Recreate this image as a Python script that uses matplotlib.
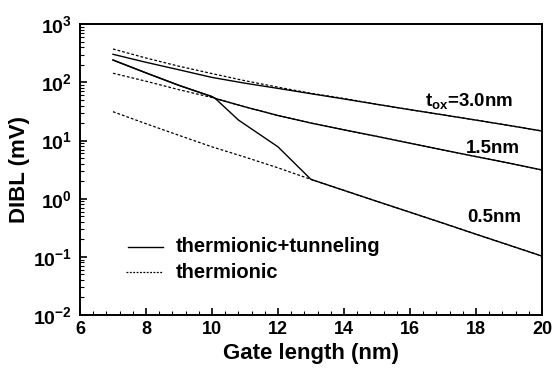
import matplotlib
matplotlib.use("Agg")
import matplotlib.pyplot as plt
from matplotlib.ticker import LogLocator, AutoMinorLocator, MultipleLocator, LogFormatterMathtext, NullFormatter

plt.rcParams['font.family'] = ['Liberation Sans', 'DejaVu Sans']
plt.rcParams['font.weight'] = 'bold'
plt.rcParams['mathtext.fontset'] = 'custom'
plt.rcParams['mathtext.rm'] = 'Liberation Sans:bold'
plt.rcParams['mathtext.bf'] = 'Liberation Sans:bold'
plt.rcParams['mathtext.it'] = 'Liberation Sans:bold'
plt.rcParams['mathtext.sf'] = 'Liberation Sans:bold'

# Gate length (nm)
L = [7, 8, 9, 10, 11, 12, 13, 14, 15, 16, 17, 18, 19, 20]

# thermionic only (dotted)
th_30 = [376, 263, 190, 142, 107, 83, 65, 53, 42, 34, 27.7, 22.5, 18.2, 14.6]
th_15 = [144, 105, 75, 55, 38, 27, 20, 15.3, 11.8, 9.0, 6.9, 5.3, 4.1, 3.12]
th_05 = [31.4, 19.5, 12.3, 7.8, 5.2, 3.4, 2.15, 1.39, 0.90, 0.585, 0.38, 0.245, 0.159, 0.103]

# thermionic + tunneling (solid)
L_tt30 = [7, 8, 9, 10, 11, 12, 13, 14, 15, 16, 17, 18, 19, 20]
tt_30 = [305, 222, 165, 122, 97, 79, 64, 52, 42, 34, 27.7, 22.5, 18.2, 14.6]
L_tt15 = [7, 8, 9, 10, 10.1, 11, 12, 13, 14, 15, 16, 17, 18, 19, 20]
tt_15 = [243, 146, 89, 57, 53, 38, 27, 20, 15.3, 11.8, 9.0, 6.9, 5.3, 4.1, 3.12]
L_tt05 = [7, 8, 9, 10, 10.1, 10.8, 12, 13, 14, 15, 16, 17, 18, 19, 20]
tt_05 = [243, 146, 89, 57, 53, 22.6, 7.8, 2.15, 1.39, 0.90, 0.585, 0.38, 0.245, 0.159, 0.103]

labels = [r'$\mathregular{t_{ox}}$=3.0nm', '1.5nm', '0.5nm']
legend_labels = ['thermionic+tunneling', 'thermionic']

fig = plt.figure(figsize=(5.57, 3.71), dpi=100)
ax = fig.add_axes([0.1436, 0.151, 0.8294, 0.7835])

dot = (0, (2.2, 1.6))
ax.plot(L, th_30, color='black', lw=0.9, ls=dot)
ax.plot(L, th_15, color='black', lw=0.9, ls=dot)
ax.plot(L, th_05, color='black', lw=0.9, ls=dot)
ax.plot(L_tt30, tt_30, color='black', lw=1.0)
ax.plot(L_tt15, tt_15, color='black', lw=1.0)
ax.plot(L_tt05, tt_05, color='black', lw=1.0)

ax.set_yscale('log')
ax.set_xlim(6, 20)
ax.set_ylim(1e-2, 1e3)
ax.xaxis.set_major_locator(MultipleLocator(2))
ax.xaxis.set_minor_locator(AutoMinorLocator(5))
ax.yaxis.set_major_locator(LogLocator(base=10, numticks=10))
ax.yaxis.set_minor_locator(LogLocator(base=10, subs=range(2, 10), numticks=20))
ax.yaxis.set_major_formatter(LogFormatterMathtext())
ax.yaxis.set_minor_formatter(NullFormatter())

ax.tick_params(which='both', direction='in', top=False, right=False)
ax.tick_params(which='major', length=5, width=1.2)
ax.tick_params(axis='x', which='major', pad=4, labelsize=13)
ax.tick_params(axis='y', which='major', pad=6, labelsize=14)
ax.tick_params(which='minor', length=3, width=0.8)
for s in ax.spines.values():
    s.set_linewidth(1.4)

ax.set_xlabel('Gate length (nm)', fontsize=16, fontweight='bold', labelpad=4)
ax.set_ylabel('DIBL (mV)', fontsize=16, fontweight='bold', labelpad=2)

ax.text(16.45, 47, labels[0], fontsize=13.5, fontweight='bold', va='center')
ax.text(17.7, 7.4, labels[1], fontsize=13.5, fontweight='bold', va='center')
ax.text(17.73, 0.47, labels[2], fontsize=13.5, fontweight='bold', va='center')

# legend drawn manually
ax.plot([7.45, 8.52], [0.148, 0.148], color='black', lw=1.0)
ax.plot([7.4, 8.52], [0.054, 0.054], color='black', lw=0.9, ls=(0, (1.5, 1.2)))
ax.text(8.9, 0.148, legend_labels[0], fontsize=14.5, fontweight='bold', va='center')
ax.text(8.9, 0.054, legend_labels[1], fontsize=14.5, fontweight='bold', va='center')

fig.savefig('out.png', dpi=100)
